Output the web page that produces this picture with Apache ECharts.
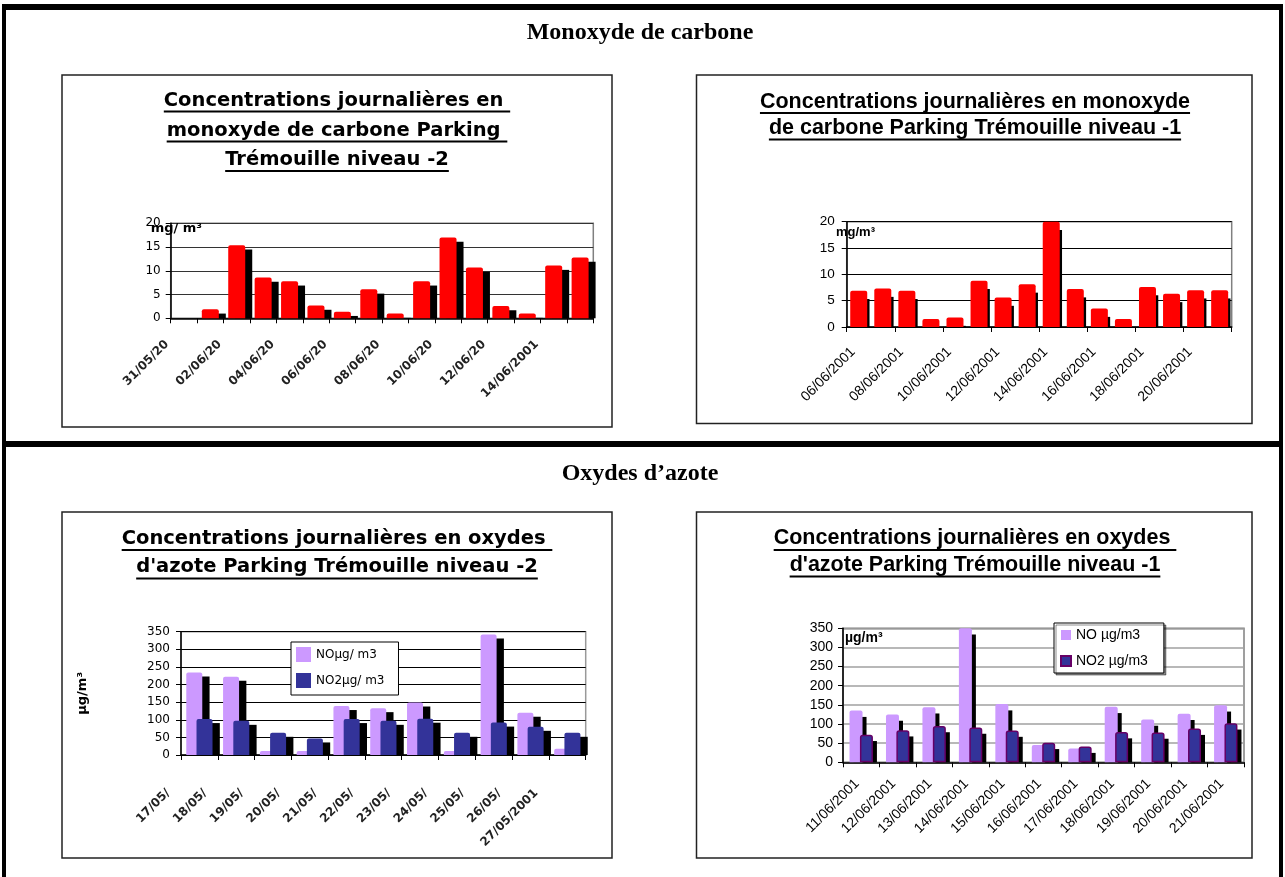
<!DOCTYPE html>
<html>
<head>
<meta charset="utf-8">
<script src="https://cdn.jsdelivr.net/npm/echarts@6/dist/echarts.min.js"></script>
<style>
  html, body { margin: 0; padding: 0; background: #fff; }
  #main { width: 1285px; height: 877px; }
</style>
</head>
<body>
<div id="main"></div>
<script>
// ---- Mesures journalières, parking Trémouille ----
// Monoxyde de carbone, niveau -2 (mg/m3)
const datesCoN2 = ['31/05/2001', '01/06/2001', '02/06/2001', '03/06/2001', '04/06/2001', '05/06/2001',
  '06/06/2001', '07/06/2001', '08/06/2001', '09/06/2001', '10/06/2001', '11/06/2001',
  '12/06/2001', '13/06/2001', '14/06/2001', '15/06/2001'];
const coN2 = [0, 1.9, 15.4, 8.6, 7.8, 2.7, 1.4, 6.1, 1.0, 7.8, 17.0, 10.7, 2.6, 1.0, 11.1, 12.8];

// Monoxyde de carbone, niveau -1 (mg/m3)
const datesCoN1 = ['06/06/2001', '07/06/2001', '08/06/2001', '09/06/2001', '10/06/2001', '11/06/2001',
  '12/06/2001', '13/06/2001', '14/06/2001', '15/06/2001', '16/06/2001', '17/06/2001',
  '18/06/2001', '19/06/2001', '20/06/2001', '21/06/2001'];
const coN1 = [6.9, 7.3, 6.9, 1.5, 1.8, 8.8, 5.6, 8.1, 20.0, 7.2, 3.5, 1.5, 7.6, 6.3, 7.0, 7.0];

// Oxydes d'azote, niveau -2 (µg/m3)
const datesNoxN2 = ['17/05/2001', '18/05/2001', '19/05/2001', '20/05/2001', '21/05/2001', '22/05/2001',
  '23/05/2001', '24/05/2001', '25/05/2001', '26/05/2001', '27/05/2001'];
const noN2 = [234, 222, 11, 11, 139, 133, 149, 11, 342, 120, 18];
const no2N2 = [102, 97, 63, 47, 102, 97, 103, 63, 92, 80, 63];

// Oxydes d'azote, niveau -1 (µg/m3)
const datesNoxN1 = ['11/06/2001', '12/06/2001', '13/06/2001', '14/06/2001', '15/06/2001', '16/06/2001',
  '17/06/2001', '18/06/2001', '19/06/2001', '20/06/2001', '21/06/2001'];
const noN1 = [135, 125, 144, 350, 152, 45, 36, 145, 112, 127, 149];
const no2N1 = [72, 84, 95, 91, 83, 51, 41, 79, 78, 88, 102];

// Axis scales
const coAxis = { max: 20, step: 5 };
const noxAxis = { max: 350, step: 50 };

// Headings
const sectionCO = 'Monoxyde de carbone';
const sectionNOx = 'Oxydes d\u2019azote';
const titleCoN2 = ['Concentrations journalières en ', 'monoxyde de carbone Parking ', 'Trémouille niveau -2'];
const titleCoN1 = ['Concentrations journalières en monoxyde', 'de carbone Parking Trémouille niveau -1'];
const titleNoxN2 = ['Concentrations journalières en oxydes ', 'd\'azote Parking Trémouille niveau -2'];
const titleNoxN1 = ['Concentrations journalières en oxydes ', 'd\'azote Parking Trémouille niveau -1'];
const legendN2 = ['NOµg/ m3', 'NO2µg/ m3'];
const legendN1 = ['NO µg/m3', 'NO2 µg/m3'];

// ---- Styling ----
const WIDE = 'DejaVu Sans';
const ARIAL = 'Liberation Sans';
const RED = '#FF0000', LILAC = '#CC99FF', NAVY = '#333399';

const measureCtx = document.createElement('canvas').getContext('2d');
function textWidth(text, font) { measureCtx.font = font; return measureCtx.measureText(text).width; }

const option = {
  animation: false,
  backgroundColor: '#fff',
  grid: [], xAxis: [], yAxis: [], series: [], legend: [],
  graphic: { elements: [] }
};

// black offset block drawn behind each bar
function shadowSeries(gi, values, offset, width, dx, dy) {
  return {
    type: 'custom', xAxisIndex: gi, yAxisIndex: gi, silent: true, z: 1,
    data: values.map((v, i) => [i, v]),
    renderItem(params, api) {
      const v = api.value(1);
      if (!(v > 0)) return null;
      const top = api.coord([api.value(0), v]);
      const base = api.coord([api.value(0), 0]);
      const y = top[1] + dy;
      const h = base[1] - y;
      if (h <= 0.4) return null;
      return {
        type: 'rect',
        shape: { x: top[0] + offset - width / 2 + dx, y: y, width: width, height: h },
        style: { fill: '#000' }
      };
    }
  };
}

function addPanel(p) {
  const gi = option.grid.length;
  option.grid.push({
    left: p.grid[0], top: p.grid[1], width: p.grid[2], height: p.grid[3],
    show: true, borderColor: p.borderColor, borderWidth: 1.5, backgroundColor: 'transparent',
    containLabel: false, outerBoundsMode: 'none'
  });
  option.xAxis.push({
    type: 'category', gridIndex: gi, data: p.categories, boundaryGap: true,
    axisLine: { show: true, onZero: false, lineStyle: { color: '#000', width: 1.5 } },
    axisTick: { show: true, interval: p.tickInterval, length: 5, lineStyle: { color: '#000', width: 1 } },
    axisLabel: {
      show: true, interval: p.labelInterval, rotate: 45, margin: p.labelMargin,
      padding: [0, p.labelPad, 0, 0],
      fontFamily: p.xFont.family, fontSize: p.xFont.size, fontWeight: p.xFont.weight || 'normal',
      color: p.xFont.color || '#000',
      formatter: p.labelFormatter || null
    },
    splitLine: { show: false }
  });
  option.yAxis.push({
    type: 'value', gridIndex: gi, min: 0, max: p.scale.max, interval: p.scale.step,
    axisLine: { show: true, lineStyle: { color: '#000', width: 1.5 } },
    axisTick: { show: true, length: 5, lineStyle: { color: '#000', width: 1 } },
    axisLabel: { margin: p.yMargin, fontFamily: p.yFont.family, fontSize: p.yFont.size, color: '#000' },
    splitLine: { show: true, lineStyle: { color: p.gridLine.color, width: p.gridLine.width } },
    name: p.yName || '', nameLocation: 'middle', nameRotate: 90, nameGap: p.yNameGap || 0,
    nameTextStyle: { fontFamily: WIDE, fontWeight: 'bold', fontSize: 13, color: '#000' }
  });

  const n = p.series.length;
  const w = p.barWidth, gap = w * p.barGapFrac;
  const total = n * w + (n - 1) * gap;
  p.series.forEach((s, k) => {
    const off = -total / 2 + k * (w + gap) + w / 2;
    option.series.push(shadowSeries(gi, s.data, off, w, p.shadow.dx, p.shadow.dy));
  });
  p.series.forEach((s) => {
    option.series.push({
      type: 'bar', name: s.name, xAxisIndex: gi, yAxisIndex: gi, data: s.data,
      barWidth: w, barGap: (p.barGapFrac * 100) + '%', silent: true, z: 2,
      itemStyle: {
        color: s.color, borderRadius: [2, 2, 0, 0],
        borderColor: s.border || s.color, borderWidth: s.border ? 1.5 : 0
      },
      emphasis: { disabled: true }
    });
  });
}

// Monoxyde de carbone, niveau -2
addPanel({
  grid: [170.7, 223.3, 422.6, 95], borderColor: '#808080',
  categories: datesCoN2, scale: coAxis,
  series: [{ name: 'CO niveau -2', data: coN2, color: RED }],
  barWidth: 17, barGapFrac: 0, shadow: { dx: 7, dy: 4.3 },
  tickInterval: 0, labelInterval: 1, labelMargin: 7, labelPad: 24,
  xFont: { family: WIDE, size: 12, weight: 'bold', color: '#222' },
  labelFormatter: (v, i) => (i === 14 ? v : v.slice(0, 8)),
  yFont: { family: WIDE, size: 12 }, yMargin: 10,
  gridLine: { color: '#333', width: 1 }
});

// Monoxyde de carbone, niveau -1
addPanel({
  grid: [846.7, 221.7, 385, 105.3], borderColor: '#808080',
  categories: datesCoN1, scale: coAxis,
  series: [{ name: 'CO niveau -1', data: coN1, color: RED }],
  barWidth: 17, barGapFrac: 0, shadow: { dx: 2.3, dy: 8.3 },
  tickInterval: 1, labelInterval: 1, labelMargin: 17, labelPad: 8,
  xFont: { family: ARIAL, size: 14 },
  yFont: { family: ARIAL, size: 13.5 }, yMargin: 12,
  gridLine: { color: '#000', width: 1 }
});

// Oxydes d'azote, niveau -2
addPanel({
  grid: [181, 631.7, 404.7, 123.3], borderColor: '#999',
  categories: datesNoxN2, scale: noxAxis,
  series: [
    { name: legendN2[0], data: noN2, color: LILAC },
    { name: legendN2[1], data: no2N2, color: NAVY }
  ],
  barWidth: 16, barGapFrac: -0.36, shadow: { dx: 7.3, dy: 4 },
  tickInterval: 0, labelInterval: 0, labelMargin: 5, labelPad: 44,
  xFont: { family: WIDE, size: 12, weight: 'bold', color: '#222' },
  labelFormatter: (v, i) => (i === 10 ? v : v.slice(0, 6)),
  yFont: { family: WIDE, size: 12 }, yMargin: 11,
  yName: 'µg/m³', yNameGap: 92,
  gridLine: { color: '#000', width: 1 }
});

// Oxydes d'azote, niveau -1
addPanel({
  grid: [843, 628.3, 401, 134], borderColor: '#808080',
  categories: datesNoxN1, scale: noxAxis,
  series: [
    { name: legendN1[0], data: noN1, color: LILAC },
    { name: legendN1[1], data: no2N1, color: NAVY, border: '#660066' }
  ],
  barWidth: 13, barGapFrac: -0.2, shadow: { dx: 4, dy: 6.3 },
  tickInterval: 0, labelInterval: 0, labelMargin: 15, labelPad: 6,
  xFont: { family: ARIAL, size: 14 },
  yFont: { family: ARIAL, size: 14 }, yMargin: 10,
  gridLine: { color: '#a0a0a0', width: 1.5 }
});

option.legend.push({
  data: legendN2, orient: 'vertical', left: 291, top: 642,
  padding: [5, 14, 7, 5], itemWidth: 15, itemHeight: 15, itemGap: 11, icon: 'rect',
  borderColor: '#000', borderWidth: 1, backgroundColor: '#fff', selectedMode: false,
  textStyle: { fontFamily: WIDE, fontSize: 12, color: '#000' }
});
option.legend.push({
  data: legendN1, orient: 'vertical', left: 1054, top: 623,
  padding: [5, 16, 5, 6], itemWidth: 10, itemHeight: 10, itemGap: 12, icon: 'rect',
  borderColor: '#000', borderWidth: 1, backgroundColor: '#fff', selectedMode: false,
  shadowColor: 'rgba(0,0,0,0.45)', shadowOffsetX: 2, shadowOffsetY: 2, shadowBlur: 0,
  textStyle: { fontFamily: ARIAL, fontSize: 14, color: '#000' }
});

// ---- Page frame, chart boxes and headings ----
const els = option.graphic.elements;
function block(x, y, w, h) {
  els.push({ type: 'rect', z: 0, silent: true, shape: { x: x, y: y, width: w, height: h }, style: { fill: '#000' } });
}
function box(x, y, w, h) {
  els.push({ type: 'rect', z: 0, silent: true, shape: { x: x, y: y, width: w, height: h },
    style: { fill: 'none', stroke: '#222', lineWidth: 1.5 } });
}
function label(text, x, y, font, align) {
  els.push({ type: 'text', z: 10, silent: true, x: x, y: y,
    style: { text: text, font: font, fill: '#000',
      align: align || 'center', textAlign: align || 'center',
      verticalAlign: 'middle', textVerticalAlign: 'middle' } });
}
function heading(lines, cx, ys, font, under) {
  lines.forEach((t, i) => {
    label(t, cx, ys[i], font, 'center');
    const w = textWidth(t, font);
    els.push({ type: 'rect', z: 10, silent: true,
      shape: { x: cx - w / 2, y: ys[i] + under - 1, width: w, height: 2 }, style: { fill: '#000' } });
  });
}

// outer frame and separator
block(2, 4, 4, 873);
block(1279, 4, 4, 873);
block(2, 4, 1281, 6);
block(2, 441, 1281, 6);

// chart boxes
box(62, 75, 550, 352);
box(696.5, 75, 555.5, 348.5);
box(62, 512, 550, 346);
box(696.5, 512, 555.5, 346);

// section headings
label(sectionCO, 640, 33, 'bold 24px "Liberation Serif"');
label(sectionNOx, 640, 474, 'bold 24px "Liberation Serif"');

// chart titles
const fontWide = 'bold 19.5px "DejaVu Sans"';
const fontArial = 'bold 21.5px "Liberation Sans"';
heading(titleCoN2, 337, [100.5, 130.5, 160], fontWide, 11);
heading(titleCoN1, 975, [102, 128.5], fontArial, 11);
heading(titleNoxN2, 337, [538.5, 567], fontWide, 11.5);
heading(titleNoxN1, 975, [538.5, 565], fontArial, 11.5);

// unit captions inside the plots
label('mg/ m³', 150.7, 228.5, 'bold 13px "DejaVu Sans"', 'left');
label('mg/m³', 836, 232.5, 'bold 13px "Liberation Sans"', 'left');
label('µg/m³', 845, 638, 'bold 14px "Liberation Sans"', 'left');

const chart = echarts.init(document.getElementById('main'), null, { renderer: 'canvas', width: 1285, height: 877 });
chart.setOption(option);
</script>
</body>
</html>
